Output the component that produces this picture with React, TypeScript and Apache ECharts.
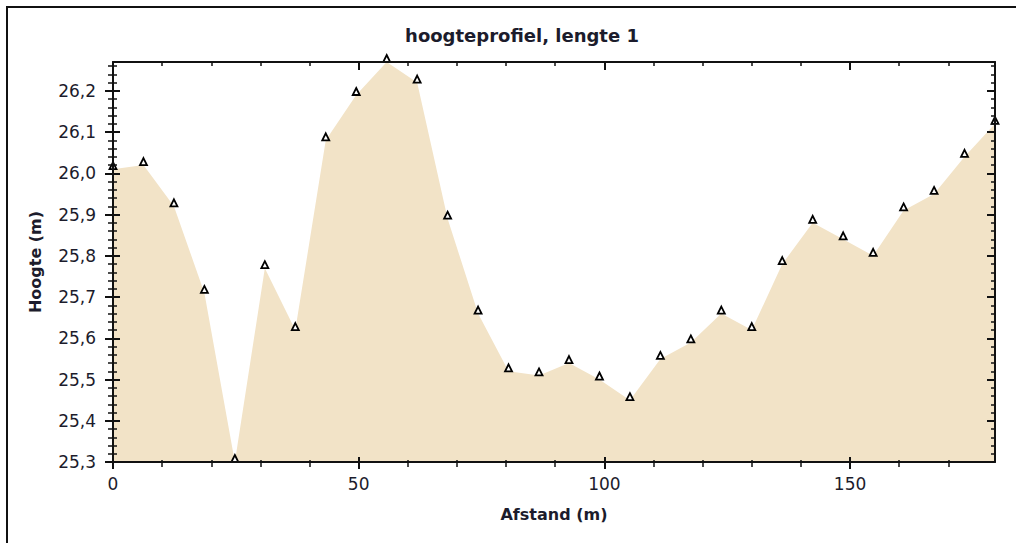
import React, { useEffect, useRef } from "react";
import * as echarts from "echarts";

const chartTitle = "hoogteprofiel, lengte 1";
const xName = "Afstand (m)";
const yName = "Hoogte (m)";

const distances = [
  0, 6.2, 12.4, 18.6, 24.8, 30.9, 37.1, 43.3, 49.5, 55.7,
  61.9, 68.1, 74.3, 80.5, 86.7, 92.8, 99.0, 105.2, 111.4, 117.6,
  123.8, 130.0, 136.2, 142.4, 148.6, 154.7, 160.9, 167.1, 173.3, 179.5,
];
const heights = [
  26.01, 26.02, 25.92, 25.71, 25.3, 25.77, 25.62, 26.08, 26.19, 26.27,
  26.22, 25.89, 25.66, 25.52, 25.51, 25.54, 25.5, 25.45, 25.55, 25.59,
  25.66, 25.62, 25.78, 25.88, 25.84, 25.8, 25.91, 25.95, 26.04, 26.12,
];

const xMajorTicks = [0, 50, 100, 150];
const xMinorTicks = [0, 10, 20, 30, 40, 50, 60, 70, 80, 90, 100, 110, 120, 130, 140, 150, 160, 170];
const yMajorTicks = [25.3, 25.4, 25.5, 25.6, 25.7, 25.8, 25.9, 26.0, 26.1, 26.2];
const yMinorTicks = [
  25.3, 25.32, 25.34, 25.36, 25.38, 25.4, 25.42, 25.44, 25.46, 25.48,
  25.5, 25.52, 25.54, 25.56, 25.58, 25.6, 25.62, 25.64, 25.66, 25.68,
  25.7, 25.72, 25.74, 25.76, 25.78, 25.8, 25.82, 25.84, 25.86, 25.88,
  25.9, 25.92, 25.94, 25.96, 25.98, 26.0, 26.02, 26.04, 26.06, 26.08,
  26.1, 26.12, 26.14, 26.16, 26.18, 26.2, 26.22, 26.24, 26.26,
];

const xMin = 0;
const xMax = 179.5;
const yMin = 25.3;
const yMax = 26.27;

const AX = "#111111";
const TXT = "#1c1c2c";
const FONT = "DejaVu Sans";
const FILL = "#f2e3c7";

const gridBox = { left: 113, right: 21, top: 62, bottom: 81 };

function tickAxis(
  kind: "x" | "y",
  gridIndex: number,
  position: string,
  ticks: number[],
  inside: boolean,
  length: number,
  width: number,
  showLine: boolean
): any {
  return {
    type: "value",
    gridIndex,
    position,
    min: kind === "x" ? xMin : yMin,
    max: kind === "x" ? xMax : yMax,
    interval: kind === "x" ? 10 : 0.02,
    z: 5,
    axisLine: { show: showLine, onZero: false, lineStyle: { color: AX, width: 2 } },
    axisTick: {
      show: true,
      inside,
      length,
      customValues: ticks,
      lineStyle: { color: AX, width },
    },
    axisLabel: { show: false },
    splitLine: { show: false },
  };
}

export default function App() {
  const ref = useRef<HTMLDivElement>(null);

  useEffect(() => {
    if (!ref.current) return;
    const chart = echarts.init(ref.current, null, { renderer: "svg" });
    const seriesData = distances.map((d, i) => [d, heights[i]]);

    const xAxes: any[] = [
      {
        type: "value",
        gridIndex: 0,
        position: "bottom",
        min: xMin,
        max: xMax,
        interval: 50,
        z: 5,
        axisLine: { show: true, onZero: false, lineStyle: { color: AX, width: 2 } },
        axisTick: {
          show: true,
          inside: false,
          length: 7,
          customValues: xMajorTicks,
          lineStyle: { color: AX, width: 2 },
        },
        axisLabel: {
          customValues: xMajorTicks,
          margin: 13,
          fontSize: 17,
          fontFamily: FONT,
          color: TXT,
        },
        splitLine: { show: false },
        name: xName,
        nameLocation: "middle",
        nameGap: 44,
        nameTextStyle: { fontSize: 16, fontWeight: "bold", fontFamily: FONT, color: TXT },
      },
      tickAxis("x", 0, "top", xMajorTicks, true, 8, 2, true),
      tickAxis("x", 1, "bottom", xMajorTicks, true, 5, 2, false),
      tickAxis("x", 1, "top", xMinorTicks, true, 4, 1.5, false),
      tickAxis("x", 2, "bottom", xMinorTicks, false, 5, 1.5, false),
      tickAxis("x", 3, "bottom", xMinorTicks, true, 2, 1.5, false),
    ];

    const yAxes: any[] = [
      {
        type: "value",
        gridIndex: 0,
        position: "left",
        min: yMin,
        max: yMax,
        interval: 0.1,
        z: 5,
        axisLine: { show: true, onZero: false, lineStyle: { color: AX, width: 2 } },
        axisTick: {
          show: true,
          inside: false,
          length: 8,
          customValues: yMajorTicks,
          lineStyle: { color: AX, width: 2 },
        },
        axisLabel: {
          customValues: yMajorTicks,
          margin: 17,
          fontSize: 17,
          fontFamily: FONT,
          color: TXT,
          formatter: (v: number) => v.toFixed(1).replace(".", ","),
        },
        splitLine: { show: false },
        name: yName,
        nameLocation: "middle",
        nameGap: 70,
        nameTextStyle: { fontSize: 16, fontWeight: "bold", fontFamily: FONT, color: TXT },
      },
      tickAxis("y", 0, "right", yMajorTicks, true, 8, 2, true),
      tickAxis("y", 1, "left", yMajorTicks, true, 7, 2, false),
      tickAxis("y", 1, "right", yMinorTicks, true, 4, 1.5, false),
      tickAxis("y", 2, "left", yMinorTicks, false, 5, 1.5, false),
      tickAxis("y", 3, "left", yMinorTicks, true, 4, 1.5, false),
    ];

    chart.setOption({
      animation: false,
      backgroundColor: "#ffffff",
      title: {
        text: chartTitle,
        left: 517,
        top: 21,
        textAlign: "center",
        textStyle: { fontFamily: FONT, fontSize: 18, fontWeight: "bold", color: TXT },
      },
      graphic: [
        {
          type: "rect",
          shape: { x: 7, y: 7, width: 1040, height: 580 },
          style: { fill: "none", stroke: AX, lineWidth: 2 },
          z: 10,
          silent: true,
        },
      ],
      grid: [0, 1, 2, 3].map(() => ({ ...gridBox })),
      xAxis: xAxes,
      yAxis: yAxes,
      series: [
        {
          type: "line",
          xAxisIndex: 0,
          yAxisIndex: 0,
          data: seriesData,
          symbol: "triangle",
          symbolSize: [7, 7],
          symbolOffset: [0, -3.5],
          showAllSymbol: true,
          itemStyle: { color: "#ffffff", borderColor: "#000000", borderWidth: 1.8 },
          lineStyle: { width: 0, opacity: 0 },
          areaStyle: { color: FILL, opacity: 1, origin: "start" },
          z: 2,
        },
      ],
    });

    return () => {
      chart.dispose();
    };
  }, []);

  return (
    <div
      ref={ref}
      style={{ position: "absolute", left: 0, top: 0, width: 1016, height: 543 }}
    />
  );
}
